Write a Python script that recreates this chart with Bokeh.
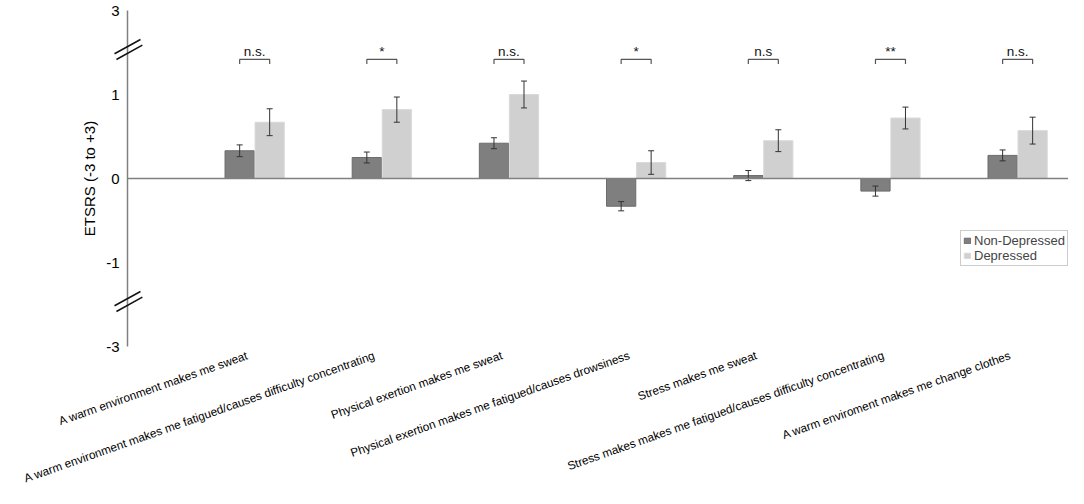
from bokeh.plotting import figure
from bokeh.models import (Range1d, FixedTicker, Span, Whisker, TeeHead, ColumnDataSource,
                          Legend, LegendItem)
from bokeh.embed import file_html
from bokeh.resources import INLINE
from bokeh.core.properties import value

# ---------------- data ----------------
categories = [
    "A warm environment makes me sweat",
    "A warm environment makes me fatigued/causes difficulty concentrating",
    "Physical exertion makes me sweat",
    "Physical exertion makes me fatigued/causes drowsiness",
    "Stress makes me sweat",
    "Stress makes makes me fatigued/causes difficulty concentrating",
    "A warm enviroment makes me change clothes",
]
non_depressed = [0.33, 0.25, 0.42, -0.33, 0.035, -0.15, 0.275]
non_depressed_err = [0.07, 0.065, 0.065, 0.055, 0.06, 0.06, 0.065]
depressed = [0.67, 0.82, 1.00, 0.19, 0.45, 0.72, 0.57]
depressed_err = [0.16, 0.15, 0.16, 0.14, 0.13, 0.13, 0.16]
significance = ["n.s.", "*", "n.s.", "*", "n.s", "**", "n.s."]
series_names = ["Non-Depressed", "Depressed"]

# broken axis: visual positions and the labels shown there
y_tick_positions = [-2, -1, 0, 1, 2]
y_tick_labels = ["-3", "-1", "0", "1", "3"]
axis_breaks = [1.536, -1.464]
sig_text_y = 1.51
bracket_top = 1.417
bracket_leg = 1.363

FONT = "Liberation Sans"
DARK = "#7f7f7f"
LIGHT = "#d0d0d0"

n = len(categories)
xs = list(range(n))
off = 0.118
bw = 0.23
label_shift = -0.055
label_gap = 0.10  # distance below the frame bottom (data units) of the rotated labels' anchor

x_start, x_end = -1.0, 6.40
y_start, y_end = -2.0, 2.0

p = figure(width=1068, height=488, output_backend="svg", toolbar_location=None,
           x_range=Range1d(x_start, x_end), y_range=Range1d(y_start, y_end),
           min_border_left=127, min_border_right=0, min_border_top=10, min_border_bottom=142)
p.outline_line_color = None
p.xgrid.visible = False
p.ygrid.visible = False
p.background_fill_color = "white"

src = ColumnDataSource(dict(
    x=xs,
    xd=[x - off for x in xs],
    xl=[x + off for x in xs],
    nd=non_depressed,
    d=depressed,
    nd_up=[v + e for v, e in zip(non_depressed, non_depressed_err)],
    nd_lo=[v - e for v, e in zip(non_depressed, non_depressed_err)],
    d_up=[v + e for v, e in zip(depressed, depressed_err)],
    d_lo=[v - e for v, e in zip(depressed, depressed_err)],
))

r_nd = p.vbar(x="xd", top="nd", bottom=0, width=bw, source=src,
              fill_color=DARK, line_color="#6c6c6c", line_width=1)
r_d = p.vbar(x="xl", top="d", bottom=0, width=bw, source=src,
             fill_color=LIGHT, line_color="#dadada", line_width=1)

for base, up, lo in [("xd", "nd_up", "nd_lo"), ("xl", "d_up", "d_lo")]:
    w = Whisker(base=base, upper=up, lower=lo, source=src, level="annotation",
                line_color="#333333", line_width=1,
                upper_head=TeeHead(size=6, line_color="#333333", line_width=1),
                lower_head=TeeHead(size=6, line_color="#333333", line_width=1))
    p.add_layout(w)

p.add_layout(Span(location=0, dimension="width", line_color="#808080", line_width=1.5))

# significance brackets
bx = [[x - off, x - off, x + off, x + off] for x in xs]
by = [[bracket_leg, bracket_top, bracket_top, bracket_leg] for _ in xs]
p.multi_line(xs=bx, ys=by, line_color="#555555", line_width=1.2)
p.text(x=xs, y=[sig_text_y] * n, text=significance, text_align="center",
       text_baseline="alphabetic", text_font=value(FONT), text_font_size="13.5px",
       text_color="#111111")

# axis break marks
bdx, bdy, bsep = 0.102, 0.085, 0.034
sx0, sy0, sx1, sy1 = [], [], [], []
for b in axis_breaks:
    for s in (1, -1):
        sx0.append(x_start - bdx + (0.015 if s < 0 else 0))
        sy0.append(b - bdy + s * bsep)
        sx1.append(x_start + bdx + (0.015 if s < 0 else 0))
        sy1.append(b + bdy + s * bsep)
p.segment(x0=sx0, y0=sy0, x1=sx1, y1=sy1, line_color="#111111", line_width=1.5, level="overlay")

# y axis
ya = p.yaxis[0]
ya.ticker = FixedTicker(ticks=y_tick_positions)
ya.major_label_overrides = {t: l for t, l in zip(y_tick_positions, y_tick_labels)}
ya.axis_line_color = "#808080"
ya.axis_line_width = 1.5
ya.major_tick_line_color = None
ya.minor_tick_line_color = None
ya.major_tick_out = 0
ya.major_tick_in = 0
ya.minor_tick_out = 0
ya.major_label_text_font = FONT
ya.major_label_text_font_size = "15px"
ya.major_label_text_color = "#000000"
ya.major_label_standoff = 8
ya.axis_label = "ETSRS (-3 to +3)"
ya.axis_label_text_font = FONT
ya.axis_label_text_font_size = "15px"
ya.axis_label_text_font_style = "normal"
ya.axis_label_text_color = "#000000"
ya.axis_label_standoff = 5

# x axis: category labels drawn as rotated text below the plot area
p.xaxis.visible = False
p.text(x=[x + label_shift for x in xs], y=[y_start - label_gap] * n, text=categories,
       angle=0.34, text_align="right", text_baseline="middle",
       text_font=value(FONT), text_font_size="11.8px", text_color="#000000", level="overlay")

legend = Legend(items=[LegendItem(label=series_names[0], renderers=[r_nd]),
                       LegendItem(label=series_names[1], renderers=[r_d])],
                location=(833, 80))
legend.label_text_font = FONT
legend.label_text_font_size = "13px"
legend.label_height = 13
legend.glyph_width = 8
legend.glyph_height = 7
legend.label_standoff = 3
legend.padding = 2
legend.spacing = 0
legend.margin = 0
legend.border_line_color = "#999999"
legend.border_line_width = 1
legend.background_fill_color = "white"
p.add_layout(legend)

open("out.html", "w").write(file_html(p, INLINE))
